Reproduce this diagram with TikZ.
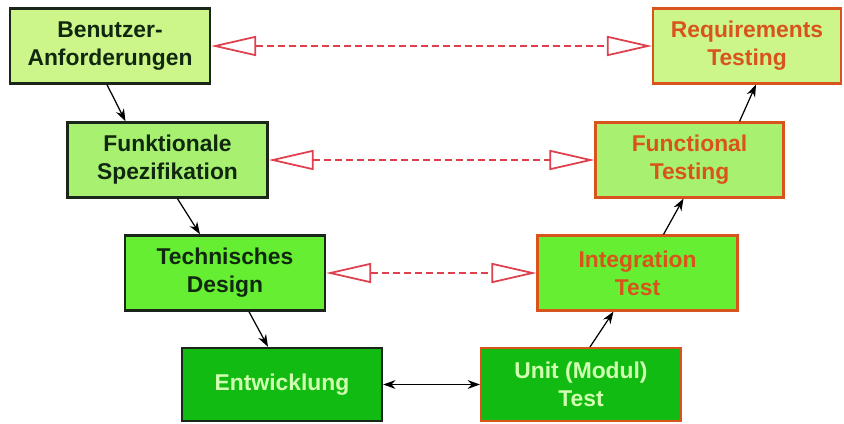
\documentclass[tikz,border=0pt]{standalone}
\usepackage{fontspec}
\setmainfont{Liberation Sans}
\usetikzlibrary{arrows.meta,calc}
\definecolor{fillA}{HTML}{CCF58A}
\definecolor{fillB}{HTML}{A8F070}
\definecolor{fillC}{HTML}{66EE33}
\definecolor{fillD}{HTML}{11BB11}
\definecolor{edgeL}{HTML}{1A261A}
\definecolor{edgeR}{HTML}{D9541C}
\definecolor{textL}{HTML}{102810}
\definecolor{textD}{HTML}{D0FFB0}
\definecolor{traceRed}{HTML}{E0404E}
\tikzset{
  vbox/.style={rectangle, inner sep=0pt, align=center,
    font=\fontsize{13}{16}\selectfont\bfseries},
  leftbox/.style={vbox, draw=edgeL, line width=1.4pt, text=textL,
    minimum width=4cm, minimum height=1.5cm},
  rightbox/.style={vbox, draw=edgeR, line width=1.2pt, text=edgeR,
    minimum height=1.5cm},
  vlink/.style={-{Stealth[length=7pt,width=5pt]}, line width=0.7pt},
  bothlink/.style={{Stealth[length=7pt,width=5pt]}-{Stealth[length=7pt,width=5pt]}, line width=0.7pt},
  tracelink/.style={{Triangle[open,length=0.9cm,width=0.4cm]}-{Triangle[open,length=0.9cm,width=0.4cm]},
    draw=traceRed, line width=1pt, dash pattern=on 0.14cm off 0.08cm}
}
\begin{document}
\begin{tikzpicture}[x=0.02cm, y=-0.02cm]
    \useasboundingbox[fill=white] (0,0) rectangle (844,423);
    % left branch
    \node[leftbox, fill=fillA] (l1) at (110,46) {Benutzer-\\Anforderungen};
    \node[leftbox, fill=fillB] (l2) at (167.5,160) {Funktionale\\Spezifikation};
    \node[leftbox, fill=fillC] (l3) at (225,273) {Technisches\\Design};
    \node[leftbox, fill=fillD, text=textD, minimum height=1.46cm] (l4) at (282,384.5) {Entwicklung};
    % right branch
    \node[rightbox, fill=fillA, minimum width=3.76cm] (r1) at (747,46) {Requirements\\Testing};
    \node[rightbox, fill=fillB, minimum width=3.76cm] (r2) at (689.5,160) {Functional\\Testing};
    \node[rightbox, fill=fillC, minimum width=4cm] (r3) at (637.5,273) {Integration\\Test};
    \node[rightbox, fill=fillD, text=textD, minimum width=4cm, minimum height=1.46cm] (r4) at (581,384.5) {Unit (Modul)\\Test};
    % down and up
    \draw[vlink] ($(l1.south)+(-3,0)$) -- ($(l2.north)+(-42,0)$);
    \draw[vlink] ($(l2.south)+(10,0)$) -- ($(l3.north)+(-25,0)$);
    \draw[vlink] ($(l3.south)+(24,0)$) -- ($(l4.north)+(-14,0)$);
    \draw[vlink] ($(r4.north)+(9,0)$) -- ($(r3.south)+(-24,0)$);
    \draw[vlink] ($(r3.north)+(26,0)$) -- ($(r2.south)+(-6,0)$);
    \draw[vlink] ($(r2.north)+(50,0)$) -- ($(r1.south)+(9,0)$);
    \draw[bothlink] (l4.east) -- (r4.west);
    % test levels
    \draw[tracelink] (l1.east) -- (r1.west);
    \draw[tracelink] (l2.east) -- (r2.west);
    \draw[tracelink] (l3.east) -- (r3.west);
\end{tikzpicture}
\end{document}
